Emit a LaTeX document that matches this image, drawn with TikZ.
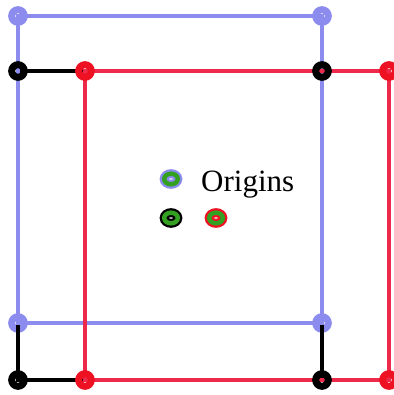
\documentclass[tikz,border=0pt]{standalone}
\usepackage{fontspec}
\setmainfont{Liberation Serif}
\definecolor{framebl}{HTML}{8C8CEE}
\definecolor{framerd}{HTML}{EE2A4C}
\definecolor{originbl}{HTML}{8C8CEE}
\definecolor{originrd}{HTML}{EE1122}
\definecolor{origingr}{HTML}{33A022}
\tikzset{
  edge/.style={line width=3.2pt},
  corner/.style={line width=7pt},
  keyouter/.style={line width=9pt},
  keyinner/.style={line width=4.5pt, draw=origingr},
}
\begin{document}
\begin{tikzpicture}[x=1pt,y=1pt]
\useasboundingbox (0,0) rectangle (393,395);
% corners of the three frames
\coordinate (b1) at (18,379);  \coordinate (b2) at (322,379);
\coordinate (b3) at (322,72);  \coordinate (b4) at (18,72);
\coordinate (k1) at (18,324);  \coordinate (k2) at (322,324);
\coordinate (k3) at (322,15);  \coordinate (k4) at (18,15);
\coordinate (r1) at (85,324);  \coordinate (r2) at (389,324);
\coordinate (r3) at (389,15);  \coordinate (r4) at (85,15);
% blue frame corners
\foreach \c in {b1,b2,b3,b4} \draw[corner,framebl] (\c) circle[radius=6.3];
% black frame
\draw[edge,black] (k1) -- (k2) -- (k3) -- (k4) -- cycle;
% blue frame
\draw[edge,framebl] (b1) -- (b2) -- (b3) -- (b4) -- cycle;
% red frame
\draw[edge,framerd] (r1) -- (r2) -- (r3) -- (r4) -- cycle;
% black and red corners
\foreach \c in {k1,k2,k3,k4} \draw[corner,black] (\c) circle[radius=6.3];
\foreach \c in {r1,r2,r3,r4} \draw[corner,originrd] (\c) circle[radius=6.3];
% legend
\coordinate (lb) at (171,216);
\coordinate (lk) at (171,177);
\coordinate (lr) at (216,177);
\draw[keyouter,originbl] (lb) ellipse[x radius=6.8,y radius=5.3];
\draw[keyinner] (lb) ellipse[x radius=6.8,y radius=5.3];
\draw[keyouter,black] (lk) ellipse[x radius=6.8,y radius=5.3];
\draw[keyinner] (lk) ellipse[x radius=6.8,y radius=5.3];
\draw[keyouter,originrd] (lr) ellipse[x radius=6.8,y radius=5.3];
\draw[keyinner] (lr) ellipse[x radius=6.8,y radius=5.3];
\node[anchor=base west,inner sep=0,font=\fontsize{31}{31}\selectfont] (lbl) at (201,203) {Origins};
\end{tikzpicture}
\end{document}
